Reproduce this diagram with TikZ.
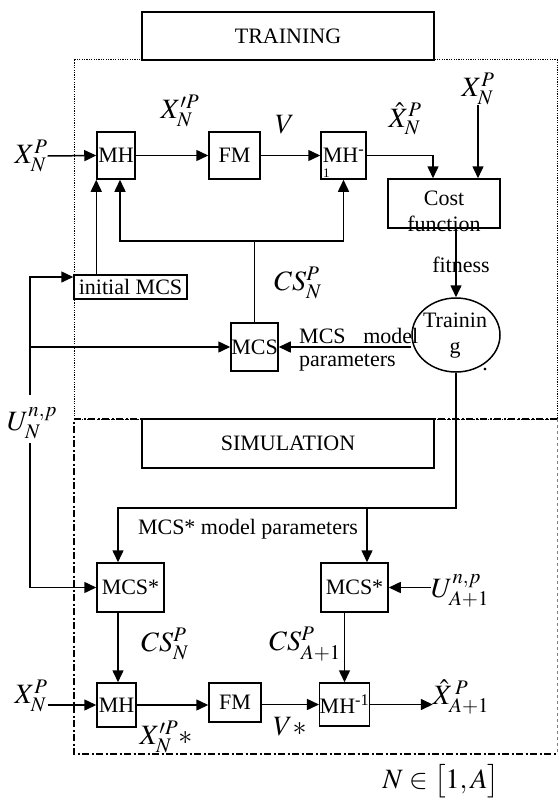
\documentclass[tikz,border=0pt]{standalone}
\usepackage{mathptmx}
\usepackage{fontspec}
\setmainfont{Liberation Serif}
\usetikzlibrary{arrows.meta, positioning, shapes.geometric, calc}

\begin{document}
\begin{tikzpicture}[x=1pt,y=-1pt,
  blk/.style={draw,line width=1.5pt,inner sep=0pt,font=\fontsize{22}{26}\selectfont},
  txt/.style={inner sep=0pt,font=\fontsize{22}{26}\selectfont},
  lab/.style={inner sep=0pt,font=\fontsize{28}{32}\selectfont},
  arr/.style={-{Triangle[length=12pt,width=11pt]},line width=1.5pt},
  ln/.style={line width=1.5pt}
]
\useasboundingbox (0,0) rectangle (559,800);

% frames
\draw[line width=1pt,dash pattern=on 1.2pt off 1.2pt] (74,60) rectangle (557,419);
\draw[line width=1.3pt,dash pattern=on 7pt off 2.5pt on 2pt off 2.5pt] (557,419) -- (74,419) -- (74,754) -- (557,754);
\draw[dashed,gray,line width=0.8pt] (557,419) -- (557,754);
\node[blk,minimum width=292pt,minimum height=48pt] (trn) at (288,36) {TRAINING};
\node[blk,minimum width=292pt,minimum height=49pt] (sim) at (288,443.5) {SIMULATION};

% training part
\node[blk,minimum width=38pt,minimum height=47pt] (mh1) at (116,155.5) {MH};
\node[blk,minimum width=51pt,minimum height=47pt] (fm1) at (234.5,155.5) {FM};
\node[blk,minimum width=45pt,minimum height=47pt] (mhi1) at (343.5,155.5) {MH\textsuperscript{-}};
\node[inner sep=0pt,font=\fontsize{13}{13}\selectfont,anchor=base west] (one) at (323,177) {1};
\node[blk,minimum width=112pt,minimum height=49pt] (cost) at (444,203.5) {};
\node[txt,align=center] (costtxt) at (444,211) {Cost\\function};
\node[blk,ellipse,minimum width=88pt,minimum height=74pt] (train) at (456,335) {};
\node[txt,align=center] (traintxt) at (455,336) {Trainin\\g};
\node[blk,minimum width=113pt,minimum height=24pt] (init) at (130.5,287) {initial MCS};
\node[blk,minimum width=47pt,minimum height=48pt] (mcs) at (254.5,347) {MCS};

\node[lab] (xin1) at (31,156) {$X_N^P$};
\node[lab] (xtop) at (478,89) {$X_N^P$};
\node[lab] (xhat1) at (405,119) {$\hat{X}_N^P$};
\node[lab] (xpr1) at (180,111) {$X'^P_N$};
\node[lab] (v1) at (285,125) {$V$};
\node[lab] (cs1) at (298,283) {$CS_N^P$};
\node[txt,anchor=base] (fit) at (461,272) {fitness};
\node[txt,anchor=base west] (mcsm) at (299,343) {MCS\hspace{0.8em}model};
\node[txt,anchor=base west] (par) at (299,366) {parameters};
\node[txt,anchor=base] (dot) at (485,370) {.};
\node[lab] (u1) at (32,423) {$U_N^{n,p}$};
\coordinate (uu) at (30,395);
\coordinate (ud) at (30,443);
\coordinate (jn) at (254.5,241);

\draw[arr] (xin1.east) -- (mh1.west);
\draw[arr] (mh1) -- (fm1);
\draw[arr] (fm1) -- (mhi1);
\draw[arr] (mhi1.east) -| ([xshift=-11pt]cost.north);
\draw[arr] (xtop.south) -- (xtop.south |- cost.north);
\draw[arr] (cost.south -| train.north) -- (train.north);
\draw[arr] (mcs.east -| train.west) -- (mcs.east);
\draw[ln] (mcs.north) -- (jn);
\draw[arr] (jn) -| (mhi1.south);
\draw[arr] (jn) -| ([xshift=4pt]mh1.south);
\draw[arr] (init.north -| mh1.south west) -- (mh1.south west);
\draw[arr] (uu) |- ([yshift=10pt]init.west);
\draw[arr] (uu |- mcs.west) -- (mcs.west);

% simulation part
\node[blk,minimum width=67pt,minimum height=49pt] (mcss1) at (130.5,587.5) {MCS*};
\node[blk,minimum width=67pt,minimum height=49pt] (mcss2) at (354.5,587.5) {MCS*};
\node[blk,minimum width=39pt,minimum height=44pt] (mh2) at (116.5,705) {MH};
\node[blk,minimum width=52pt,minimum height=39pt] (fm2) at (235,702.5) {FM};
\node[blk,minimum width=47pt,minimum height=43pt] (mhi2) at (344.5,704.5) {MH\textsuperscript{-1}};
\coordinate (pj) at (456,508);

\node[txt] (mcsp) at (248,529) {MCS* model parameters};
\node[lab] (u2) at (460,591) {$U_{A+1}^{n,p}$};
\node[lab] (cs2) at (165,644) {$CS_N^P$};
\node[lab] (cs3) at (305,644) {$CS_{A+1}^P$};
\node[lab] (xin2) at (31,696) {$X_N^P$};
\node[lab] (xpr2) at (166,737) {$X'^P_N{*}$};
\node[lab] (vs) at (290,727) {$V{*}$};
\node[lab] (xhat2) at (461,697) {$\hat{X}_{A+1}^{\,P}$};
\node[lab] (nin) at (441,781) {$N\in\bigl[1,A\bigr]$};

\draw[arr] (train.south) -- (pj) -| ([xshift=-12.5pt]mcss1.north);
\draw[arr] ([xshift=12.5pt]mcss2.north |- pj) -- ([xshift=12.5pt]mcss2.north);
\draw[arr] (ud) |- (mcss1.west);
\draw[arr] (mcss2.east -| u2.west) -- (mcss2.east);
\draw[arr] ([xshift=-12.5pt]mcss1.south) -- ([xshift=-12.5pt]mcss1.south |- mh2.north);
\draw[arr] (mcss2.south -| mhi2.north) -- (mhi2.north);
\draw[arr] (xin2.east |- mh2.west) -- (mh2.west);
\draw[arr] (mh2.east) -- (mh2.east -| fm2.west);
\draw[arr] (fm2.east |- mhi2.west) -- (mhi2.west);
\draw[arr] (mhi2.east) -- (mhi2.east -| xhat2.west);
\end{tikzpicture}
\end{document}
